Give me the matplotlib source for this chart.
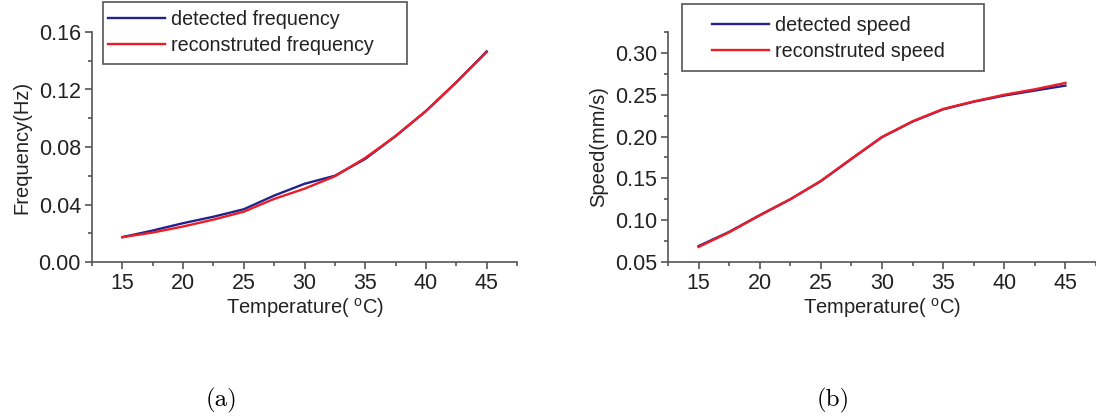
import matplotlib
matplotlib.use("Agg")
import matplotlib.pyplot as plt
from matplotlib.ticker import MultipleLocator, FormatStrFormatter
from matplotlib.patches import Rectangle

# Temperature sample points (deg C)
temperature = [15, 17.5, 20, 22.5, 25, 27.5, 30, 32.5, 35, 37.5, 40, 42.5, 45]

# (a) oscillation frequency (Hz)
freq_detected = [0.0173, 0.0219, 0.0270, 0.0315, 0.0367, 0.0462, 0.0544, 0.0600,
                 0.0717, 0.0876, 0.1050, 0.1250, 0.1465]
freq_reconstructed = [0.0173, 0.0205, 0.0247, 0.0295, 0.0350, 0.0439, 0.0510, 0.0596,
                      0.0724, 0.0876, 0.1050, 0.1250, 0.1460]

# (b) propagation speed (mm/s)
speed_detected = [0.0690, 0.0860, 0.1060, 0.1250, 0.1468, 0.1732, 0.1993, 0.2179,
                  0.2325, 0.2416, 0.2490, 0.2550, 0.2609]
speed_reconstructed = [0.0680, 0.0855, 0.1057, 0.1250, 0.1468, 0.1735, 0.1995, 0.2182,
                       0.2330, 0.2420, 0.2500, 0.2565, 0.2641]

BLUE = "#23238e"
RED = "#ee1c25"
AXC = "#555555"
TXT = "#222222"

TICK_FS = 15.5
LABEL_FS = 14.5
LEG_FS = 14.2

plt.rcParams["font.family"] = ["Liberation Sans", "DejaVu Sans"]
plt.rcParams["mathtext.fontset"] = "custom"
plt.rcParams["mathtext.rm"] = "Liberation Sans"

W, H = 1096, 419
fig = plt.figure(figsize=(W / 100, H / 100), dpi=100)


def fx(px):
    return px / W


def fy(py):
    return 1 - py / H


def style_axes(ax):
    for s in ["top", "right"]:
        ax.spines[s].set_visible(False)
    for s in ["left", "bottom"]:
        ax.spines[s].set_color(AXC)
        ax.spines[s].set_linewidth(1.2)
    ax.tick_params(which="major", direction="out", length=5, width=1.2,
                   color=AXC, labelsize=TICK_FS, labelcolor=TXT, pad=3)
    ax.tick_params(which="minor", direction="out", length=3, width=1.2, color=AXC)
    ax.set_xlim(12.5, 47.5)
    ax.xaxis.set_major_locator(MultipleLocator(5))
    ax.xaxis.set_minor_locator(MultipleLocator(2.5))
    ax.set_xlabel("Temperature( $^{\\mathregular{o}}$C)", fontsize=LABEL_FS, color=TXT, labelpad=1)


# left panel: frequency
ax1 = fig.add_axes([fx(92), fy(262), fx(517 - 92), (262 - 32) / H])
ax1.plot(temperature, freq_detected, color=BLUE, lw=1.7, label="detected frequency")
ax1.plot(temperature, freq_reconstructed, color=RED, lw=1.7, label="reconstruted frequency")
style_axes(ax1)
ax1.set_ylim(0, 0.16)
ax1.yaxis.set_major_locator(MultipleLocator(0.04))
ax1.yaxis.set_minor_locator(MultipleLocator(0.02))
ax1.yaxis.set_major_formatter(FormatStrFormatter("%.2f"))
ax1.set_ylabel("Frequency(Hz)", fontsize=LABEL_FS, color=TXT, labelpad=5)

# right panel: speed
ax2 = fig.add_axes([fx(668), fy(262), fx(1096 - 668), (262 - 32) / H])
ax2.plot(temperature, speed_detected, color=BLUE, lw=1.7, label="detected speed")
ax2.plot(temperature, speed_reconstructed, color=RED, lw=1.7, label="reconstruted speed")
style_axes(ax2)
ax2.set_ylim(0.05, 0.325)
ax2.yaxis.set_major_locator(MultipleLocator(0.05))
ax2.yaxis.set_minor_locator(MultipleLocator(0.025))
ax2.yaxis.set_major_formatter(FormatStrFormatter("%.2f"))
ax2.set_ylabel("Speed(mm/s)", fontsize=LABEL_FS, color=TXT, labelpad=5)

# legends: frameless entries inside a drawn box
for ax, box, anchor in [(ax1, (103, 2, 407, 64), (104, 6)),
                        (ax2, (682, 4, 984, 71), (708, 12))]:
    x0, y0, x1, y1 = box
    fig.patches.append(Rectangle((fx(x0), fy(y1)), fx(x1 - x0), (y1 - y0) / H,
                                 transform=fig.transFigure, fill=False,
                                 edgecolor=AXC, linewidth=1.2))
    leg = ax.legend(loc="upper left", bbox_to_anchor=(fx(anchor[0]), fy(anchor[1])),
                    bbox_transform=fig.transFigure, frameon=False, fontsize=LEG_FS,
                    handlelength=2.9, handletextpad=0.3, labelspacing=0.35,
                    borderpad=0.2, borderaxespad=0)
    for t in leg.get_texts():
        t.set_color(TXT)

# panel captions
fig.text(fx(222), fy(400), "(a)", family="cmr10", fontsize=18, ha="center", va="center")
fig.text(fx(833), fy(400), "(b)", family="cmr10", fontsize=18, ha="center", va="center")

fig.savefig("out.png", dpi=100)
